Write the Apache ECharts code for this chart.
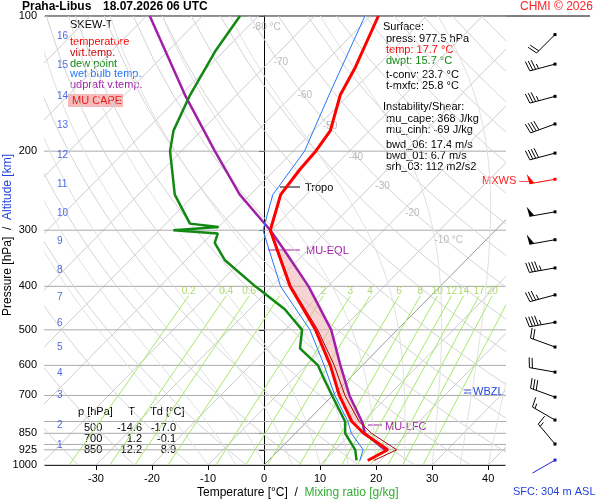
<!DOCTYPE html>
<html><head><meta charset="utf-8">
<script src="https://cdn.jsdelivr.net/npm/echarts@6/dist/echarts.min.js"></script>
<style>html,body{margin:0;padding:0;background:#fff}#c{width:600px;height:500px}</style>
</head><body><div id="c"></div>
<script>
// ---- data ----
const tempP = [977,925,850,800,700,600,500,400,300,250,220,200,180,150,130,115,100];
const tempT = [17.7,19.4,12.2,8.0,1.2,-5.7,-14.6,-26.8,-40.2,-44.6,-45.6,-46,-47,-51.5,-53.7,-56,-58.6];
const virtT = [18.8,21.0,13.6,9.3,2.2,-5.0,-14.2,-26.6,-40.1,-44.5,-45.5,-46,-47,-51.5,-53.7,-56,-58.6];
const dewP = [977,925,850,800,700,650,600,550,500,450,400,350,320,305,300,295,290,250,200,180,150,120,100];
const dewT = [15.7,13.6,8.9,6.8,-0.1,-3.9,-7.9,-14.1,-17,-23.7,-33,-43,-47.9,-49,-57.5,-50,-55.7,-63.5,-72,-75,-78.3,-81.5,-83.3];
const wbP = [977,925,850,800,700,600,500,400,300,250,200,150,100];
const wbT = [16.3,15.0,10.0,7.3,0.4,-6.8,-15.6,-28.5,-41.5,-46,-48,-53.5,-61];
const parP = [925,850,810,800,700,600,500,400,330,300,250,200,150,100];
const parT = [18.9,12.4,10.4,9.8,3.0,-3.9,-11.8,-23.5,-34.6,-40.2,-51.9,-64,-79.2,-99.4];
const windP = [110,128,151,174,202,231,273,315,364,418,481,546,621,706,794,898,975];
const windDir = [225,255,255,250,255,260,260,260,260,255,260,290,280,290,300,320,240];
const windSpd = [20,35,35,40,40,50,50,50,45,35,45,20,20,30,15,15,5];
const kmLabels = [1,2,3,4,5,6,7,8,9,10,11,12,13,14,15,16];
const kmP = [903,814,698,624,546,483,422,368,317,275,237,204,175,151,129,111];
const pTicks = [100,200,300,400,500,600,700,850,925,1000];
const xTicks = [-30,-20,-10,0,10,20,30,40];
const mixRatios = [0.2,0.4,0.6,1,2,3,4,6,8,10,12,14,17,20,25];
const isoLabelT = [-80,-70,-60,-50,-40,-30,-20,-10];
const isoLabelP = [106,127,150,176,206,240,275,316];
const tableRows = [['500','-14.6','-17.0'],['700','1.2','-0.1'],['850','12.2','8.9']];

// ---- skew-T transform ----
const K = 79;
const H = p => Math.log10(1000/p);
const XY = (t,p) => [t + K*H(p), H(p)];
const prof = (P,T) => P.map((p,i)=>XY(T[i],p));

const series = [];
const bg = (data,color,w,type,z) => series.push({type:'line',data,showSymbol:false,silent:true,
  lineStyle:{color,width:w,type:type||'solid'},z:z||1,animation:false});
for(let t=-130;t<=40;t+=10) bg([XY(t,1000),XY(t,100)], t===0?'#999':'#ccc',1);
for(let p=100;p<=1000;p+=100) bg([XY(-200,p),XY(100,p)],'#aaa',1);
bg([XY(-200,850),XY(100,850)],'#aaa',1);bg([XY(-200,925),XY(100,925)],'#aaa',1);
for(let th=230;th<=480;th+=10){const d=[];for(let p=1000;p>=100;p-=25)d.push(XY(th*Math.pow(p/1000,0.286)-273.15,p));bg(d,'#d4d4d4',1);}
for(let t0=-10;t0<=40;t0+=5){let T=t0+273.15;const d=[XY(t0,1000)];
 for(let p=1000;p>100;p-=10){const Tc=T-273.15;const es=6.112*Math.exp(17.67*Tc/(Tc+243.5));const rs=0.622*es/(p-es);
  const dTdp=(287*T+2.5e6*rs)/(p*(1004+2.5e6*2.5e6*rs*0.622/(287*T*T)));T-=dTdp*10;d.push(XY(T-273.15,p-10));}
 bg(d,'#e0e0e0',1);}
const mrT=(w,p)=>{const e=w*p/(622+w);const l=Math.log(e/6.112);return 243.5*l/(17.67-l);};
mixRatios.forEach(w=>bg([XY(mrT(w,1000),1000),XY(mrT(w,420),420)],'#a6e86a',1));
series.push({type:'scatter',symbolSize:0,silent:true,data:mixRatios.map(w=>({value:XY(mrT(w,420),420),
  label:{show:w!==1,formatter:String(w),position:'top',color:'#9ad04a',fontSize:10,distance:0}}))});
series.push({type:'scatter',symbolSize:0,silent:true,data:isoLabelT.map((t,i)=>({value:XY(t,isoLabelP[i]),
  label:{show:true,formatter:(i===0||i===7)?t+' °C':String(t),position:'right',color:'#aaa',fontSize:10}}))});
function interp(P,T,p){for(let i=0;i<P.length-1;i++){if(p<=P[i]&&p>=P[i+1]){const f=(H(p)-H(P[i]))/(H(P[i+1])-H(P[i]));return T[i]+f*(T[i+1]-T[i]);}}return T[T.length-1];}
const capeLevels=[];for(let p=810;p>=330;p-=10)capeLevels.push(p);
const capePoly=capeLevels.map(p=>XY(interp(parP,parT,p),p)).concat(capeLevels.slice().reverse().map(p=>XY(interp(tempP,tempT,p),p)));
series.push({type:'custom',silent:true,z:2,data:[0],renderItem:(params,api)=>({type:'polygon',
  shape:{points:capePoly.map(c=>api.coord(c))},style:{fill:'rgba(240,170,170,0.5)',stroke:null}})});
series.push({type:'line',data:prof(parP,parT),showSymbol:false,lineStyle:{color:'#a020a8',width:2.5},z:5});
series.push({type:'line',data:prof(dewP,dewT),showSymbol:false,lineStyle:{color:'#118811',width:2.5},z:5});
series.push({type:'line',data:prof(wbP,wbT),showSymbol:false,lineStyle:{color:'#2277ff',width:1},z:6});
series.push({type:'line',data:prof(tempP,virtT),showSymbol:false,lineStyle:{color:'#aa0000',width:1},z:6});
series.push({type:'line',data:prof(tempP,tempT),showSymbol:false,lineStyle:{color:'#ff0000',width:3},z:7});
series.push({type:'scatter',symbolSize:0,silent:true,data:kmP.map((p,i)=>({value:[-39.1,H(p)],
  label:{show:true,formatter:String(kmLabels[i]),position:'right',distance:12,color:'#2244dd',fontSize:10}}))});
series.push({type:'custom',silent:true,clip:false,data:windP.map((p,i)=>[H(p),windDir[i],windSpd[i],i]),
 renderItem:(params,api)=>{
  const y=api.coord([0,api.value(0)])[1];const x=555;const d=api.value(1)*Math.PI/180;let s=api.value(2);const idx=api.value(3);
  const col= idx===5?'#ff0000':(idx===windP.length-1?'#2222dd':'#000');
  const ux=Math.sin(d),uy=-Math.cos(d);const L=26;const ex=x+L*ux,ey=y+L*uy;
  const ch=[{type:'line',shape:{x1:x,y1:y,x2:ex,y2:ey},style:{stroke:col,lineWidth:1}},
   {type:'rect',shape:{x:x-1.5,y:y-1.5,width:3,height:3},style:{fill:col}}];
  const px=-uy,py=ux;let pos=0;
  if(idx!==windP.length-1){
  while(s>=50){const bx=ex-ux*pos,by=ey-uy*pos;ch.push({type:'polygon',shape:{points:[[bx,by],[bx+px*10+ux*1,by+py*10+uy*1],[bx-ux*5,by-uy*5]]},style:{fill:col}});pos+=6;s-=50;}
  while(s>=10){const bx=ex-ux*pos,by=ey-uy*pos;ch.push({type:'line',shape:{x1:bx,y1:by,x2:bx+px*10+ux*2,y2:by+py*10+uy*2},style:{stroke:col,lineWidth:1}});pos+=3;s-=10;}
  if(s>=5){if(pos===0)pos=3;const bx=ex-ux*pos,by=ey-uy*pos;ch.push({type:'line',shape:{x1:bx,y1:by,x2:bx+px*5+ux*1,y2:by+py*5+uy*1},style:{stroke:col,lineWidth:1}});}
  }
  return {type:'group',children:ch};}});

const F='11px "Liberation Sans", Arial';
const txt=(x,y,t,c,extra)=>Object.assign({type:'text',x,y,style:{text:t,fill:c||'#000',font:F,textVerticalAlign:'middle'}},extra||{});
const wbox=(x,y,t,c)=>({type:'text',x,y,style:{text:t,fill:c||'#000',font:F,textVerticalAlign:'middle',backgroundColor:'#fff',padding:[0,1]}});
const rt=(x,y,t)=>({type:'text',x,y,style:{text:t,fill:'#000',font:F,textAlign:'right',textVerticalAlign:'middle'}});
const graphic=[
 {type:'line',shape:{x1:45,y1:16,x2:590,y2:16},style:{stroke:'#000',lineWidth:1}},
 {type:'text',x:22,y:7,style:{text:'Praha-Libus',font:'bold 12px "Liberation Sans"',fill:'#000',textVerticalAlign:'middle'}},
 {type:'text',x:103,y:7,style:{text:'18.07.2026 06 UTC',font:'bold 12px "Liberation Sans"',fill:'#000',textVerticalAlign:'middle'}},
 {type:'text',x:520,y:7,style:{text:'CHMI © 2026',fill:'#ff2222',font:'12px "Liberation Sans"',textVerticalAlign:'middle'}},
 {type:'rect',shape:{x:65,y:18,width:80,height:92},style:{fill:'#fff'}},
 txt(70,25,'SKEW-T'),txt(70,42,'temperature','#ff0000'),txt(70,53,'virt.temp.','#cc0000'),txt(70,64,'dew point','#118811'),
 txt(70,74,'wet bulb temp.','#2277ff'),txt(70,85,'udpraft v.temp.','#a020a8'),
 {type:'rect',shape:{x:68,y:94,width:55,height:13},style:{fill:'#f6b8b8'}},txt(72,101,'MU CAPE','#e02020'),
 {type:'rect',shape:{x:380,y:20,width:120,height:72},style:{fill:'#fff'}},
 txt(383,27,'Surface:'),txt(386,39,'press: 977.5 hPa'),txt(386,50,'temp: 17.7 °C','#ff0000'),txt(386,61,'dwpt: 15.7 °C','#118811'),
 txt(386,75,'t-conv: 23.7 °C'),txt(386,86,'t-mxfc: 25.8 °C'),
 {type:'rect',shape:{x:380,y:100,width:122,height:73},style:{fill:'#fff'}},
 txt(383,107,'Instability/Shear:'),txt(386,119,'mu_cape: 368 J/kg'),txt(386,130,'mu_cinh: -69 J/kg'),
 txt(386,145,'bwd_06: 17.4 m/s'),txt(386,156,'bwd_01: 6.7 m/s'),txt(386,167,'srh_03: 112 m2/s2'),
 {type:'rect',shape:{x:72,y:404,width:108,height:52},style:{fill:'#fff'}},
 txt(78,412,'p [hPa]     T     Td [°C]'),
 ...tableRows.flatMap((r,i)=>[txt(84,428+i*11,r[0]),rt(142,428+i*11,r[1]),rt(176,428+i*11,r[2])]),
 {type:'line',shape:{x1:280,y1:187,x2:300,y2:187},style:{stroke:'#000'}},wbox(304,188,'Tropo'),
 {type:'line',shape:{x1:268,y1:250,x2:300,y2:250},style:{stroke:'#a020a8'}},wbox(305,251,'MU-EQL','#a020a8'),
 {type:'line',shape:{x1:368,y1:425,x2:382,y2:425},style:{stroke:'#a020a8'}},wbox(384,427,'MU-LFC','#a020a8'),
 txt(482,181,'MXWS —','#ff2222'),
 {type:'line',shape:{x1:464,y1:390,x2:471,y2:390},style:{stroke:'#2244dd'}},{type:'line',shape:{x1:464,y1:393,x2:471,y2:393},style:{stroke:'#2244dd'}},
 txt(473,392,'WBZL','#2244dd'),
 txt(513,492,'SFC: 304 m ASL','#2244dd'),
 {type:'text',x:197,y:493,style:{rich:{a:{fill:'#000',font:'12px "Liberation Sans"'},b:{fill:'#33aa33',font:'12px "Liberation Sans"'}},
   text:'{a|Temperature [°C]  /  }{b|Mixing ratio [g/kg]}',textVerticalAlign:'middle'}},
 {type:'text',x:8,y:235,rotation:Math.PI/2,style:{rich:{a:{fill:'#000',font:'12px "Liberation Sans"'},b:{fill:'#2244dd',font:'12px "Liberation Sans"'}},
   text:'{a|Pressure [hPa]  /  }{b|Altitude [km]}',textAlign:'center',textVerticalAlign:'middle'}}
];
const chart=echarts.init(document.getElementById('c'));
chart.setOption({animation:false,backgroundColor:'#fff',
 grid:{left:45,right:95,top:16,bottom:35},
 xAxis:{type:'value',min:-39.1,max:43.0,axisLine:{show:true,lineStyle:{color:'#000'}},splitLine:{show:false},
   axisTick:{show:true,customValues:xTicks},axisLabel:{customValues:xTicks,color:'#000',fontSize:11,fontFamily:'Liberation Sans'}},
 yAxis:{type:'value',min:0,max:1,axisLine:{show:true,lineStyle:{color:'#000'}},splitLine:{show:false},
   axisTick:{show:true,customValues:pTicks.map(H)},
   axisLabel:{customValues:pTicks.map(H),formatter:v=>String(Math.round(1000/Math.pow(10,v))),color:'#000',fontSize:11,fontFamily:'Liberation Sans'}},
 series,graphic});
</script></body></html>
